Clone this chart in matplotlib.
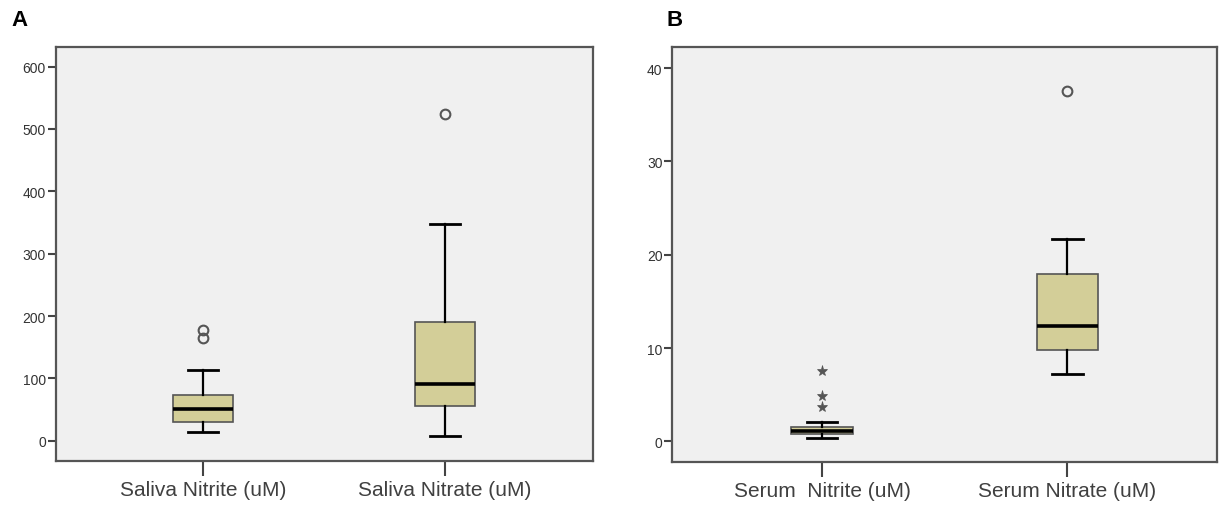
import numpy as np
import matplotlib.pyplot as plt

plt.rcParams['font.family'] = ['Liberation Sans', 'DejaVu Sans']

# valeurs (quartiles, moustaches, valeurs extremes)
saliva_labels = ["Saliva Nitrite (uM)", "Saliva Nitrate (uM)"]
saliva_q1 = [29.5, 55.7]
saliva_med = [50.9, 91.0]
saliva_q3 = [73.4, 191.0]
saliva_lo = [13.5, 7.5]
saliva_hi = [113.5, 348.0]
saliva_circles = [[164.0, 177.0], [524.5]]
saliva_stars = [[], []]

serum_labels = ["Serum  Nitrite (uM)", "Serum Nitrate (uM)"]
serum_q1 = [0.78, 9.79]
serum_med = [1.14, 12.39]
serum_q3 = [1.56, 17.94]
serum_lo = [0.39, 7.24]
serum_hi = [2.04, 21.7]
serum_circles = [[], [37.6]]
serum_stars = [[3.64, 4.9, 7.5], []]

fig = plt.figure(figsize=(12.25, 5.1), dpi=100)
ax1 = fig.add_axes([0.0454, 0.0947, 0.4384, 0.8118])
ax2 = fig.add_axes([0.5488, 0.0927, 0.4447, 0.8138])


def boites(ax, labels, q1, med, q3, lo, hi, circles, stars, ylim, yticks):
    stats = []
    for i in range(len(labels)):
        stats.append(dict(label=labels[i], q1=q1[i], med=med[i], q3=q3[i],
                          whislo=lo[i], whishi=hi[i], fliers=[]))
    pos = np.arange(1, len(labels) + 1)
    ax.bxp(stats, positions=pos, widths=0.25, patch_artist=True,
           showfliers=False, capwidths=0.125,
           boxprops=dict(facecolor="#d3ce98", edgecolor="#555555", linewidth=1.2),
           medianprops=dict(color="black", linewidth=2.6),
           whiskerprops=dict(color="black", linewidth=1.6),
           capprops=dict(color="black", linewidth=2.0))
    for p, c, s in zip(pos, circles, stars):
        if c:
            ax.plot([p] * len(c), c, "o", ms=7, mfc="none", mec="#555555", mew=1.5)
        if s:
            ax.plot([p] * len(s), s, "*", ms=8, mfc="#555555", mec="#555555", mew=0.5)
    ax.set_facecolor("#f0f0f0")
    ax.set_xlim(0.39, 2.61)
    ax.set_ylim(*ylim)
    ax.set_yticks(yticks)
    ax.set_xticks(pos)
    ax.set_xticklabels(labels, fontsize=15, color="#404040")
    for sp in ax.spines.values():
        sp.set_color("#555555")
        sp.set_linewidth(1.6)
    ax.tick_params(axis="y", length=6, width=1.5, color="#444444",
                   labelsize=10, labelcolor="#333333", pad=1)
    ax.tick_params(axis="x", length=11, width=1.5, color="#444444", pad=3)


boites(ax1, saliva_labels, saliva_q1, saliva_med, saliva_q3, saliva_lo,
       saliva_hi, saliva_circles, saliva_stars, (-32, 632), np.arange(0, 601, 100))
boites(ax2, serum_labels, serum_q1, serum_med, serum_q3, serum_lo,
       serum_hi, serum_circles, serum_stars, (-2.19, 42.3), np.arange(0, 41, 10))

fig.text(11 / 1225, 1 - 20 / 510, "A", fontsize=16, fontweight="bold", va="center")
fig.text(667 / 1225, 1 - 20 / 510, "B", fontsize=16, fontweight="bold", va="center")

fig.savefig("out.png", dpi=100)
